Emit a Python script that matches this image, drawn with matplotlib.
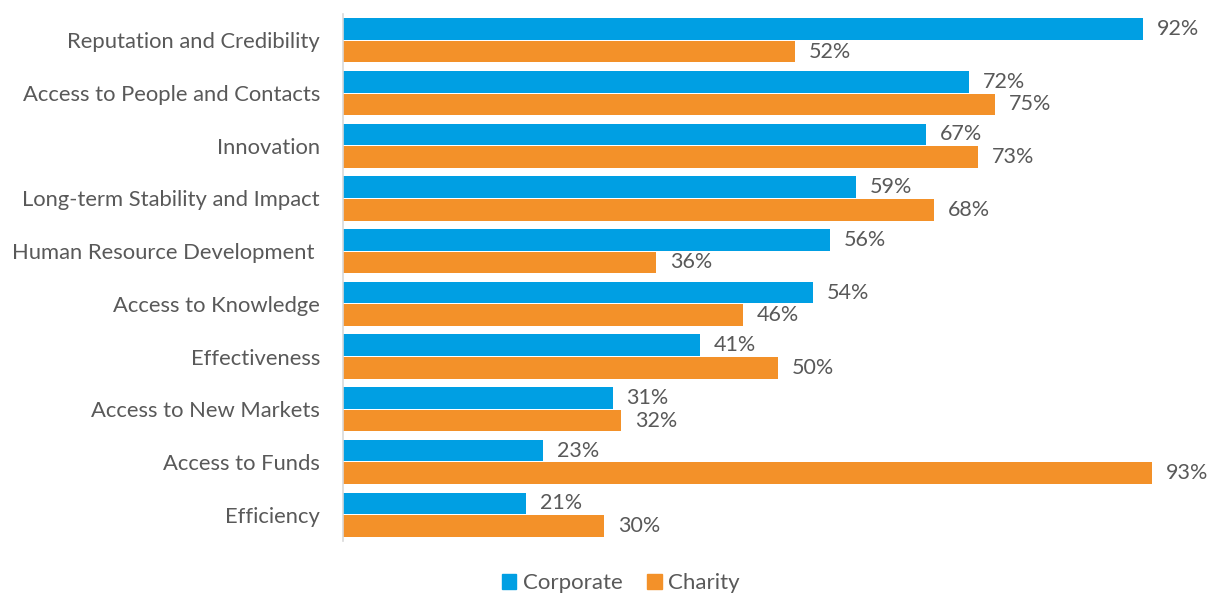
import numpy as np
import matplotlib.pyplot as plt
from matplotlib.patches import Patch

categories = ["Reputation and Credibility", "Access to People and Contacts", "Innovation",
              "Long-term Stability and Impact", "Human Resource Development ",
              "Access to Knowledge", "Effectiveness", "Access to New Markets",
              "Access to Funds", "Efficiency"]
corporate = [92, 72, 67, 59, 56, 54, 41, 31, 23, 21]
charity = [52, 75, 73, 68, 36, 46, 50, 32, 93, 30]

BLUE = "#009FE3"
ORANGE = "#F39129"
GREY = "#595959"

plt.rcParams['font.family'] = ['Lato', 'DejaVu Sans']

fig = plt.figure(figsize=(12.09, 5.96), dpi=100)
ax = fig.add_axes([343 / 1209, 1 - 541 / 596, 866 / 1209, 527 / 596])

n = len(categories)
y = np.arange(n)
h = 0.41
ax.barh(y - h / 2 - 0.01, corporate, height=h, color=BLUE)
ax.barh(y + h / 2 + 0.01, charity, height=h, color=ORANGE)

for i in range(n):
    ax.text(corporate[i] + 1.6, y[i] - h / 2 - 0.01, f"{corporate[i]}%",
            va="center", ha="left", fontsize=15.5, color=GREY)
    ax.text(charity[i] + 1.6, y[i] + h / 2 + 0.01, f"{charity[i]}%",
            va="center", ha="left", fontsize=15.5, color=GREY)

ax.set_ylim(n - 0.5, -0.5)
ax.set_xlim(0, 866 / 8.696)
ax.set_yticks(y)
ax.set_yticklabels(categories, fontsize=15.8, color=GREY)
ax.tick_params(axis="y", length=0, pad=16.5)
ax.set_xticks([])
for s in ["top", "right", "bottom"]:
    ax.spines[s].set_visible(False)
ax.spines["left"].set_color("#D9D9D9")
ax.spines["left"].set_linewidth(1.2)

handles = [Patch(color=BLUE, label="Corporate"), Patch(color=ORANGE, label="Charity")]
fig.legend(handles=handles, loc="center", bbox_to_anchor=(621 / 1209, 1 - 583 / 596),
           ncol=2, frameon=False, fontsize=16, labelcolor=GREY,
           handlelength=0.65, handleheight=0.65, handletextpad=0.3, columnspacing=1.1)

plt.savefig("out.png", dpi=100)
